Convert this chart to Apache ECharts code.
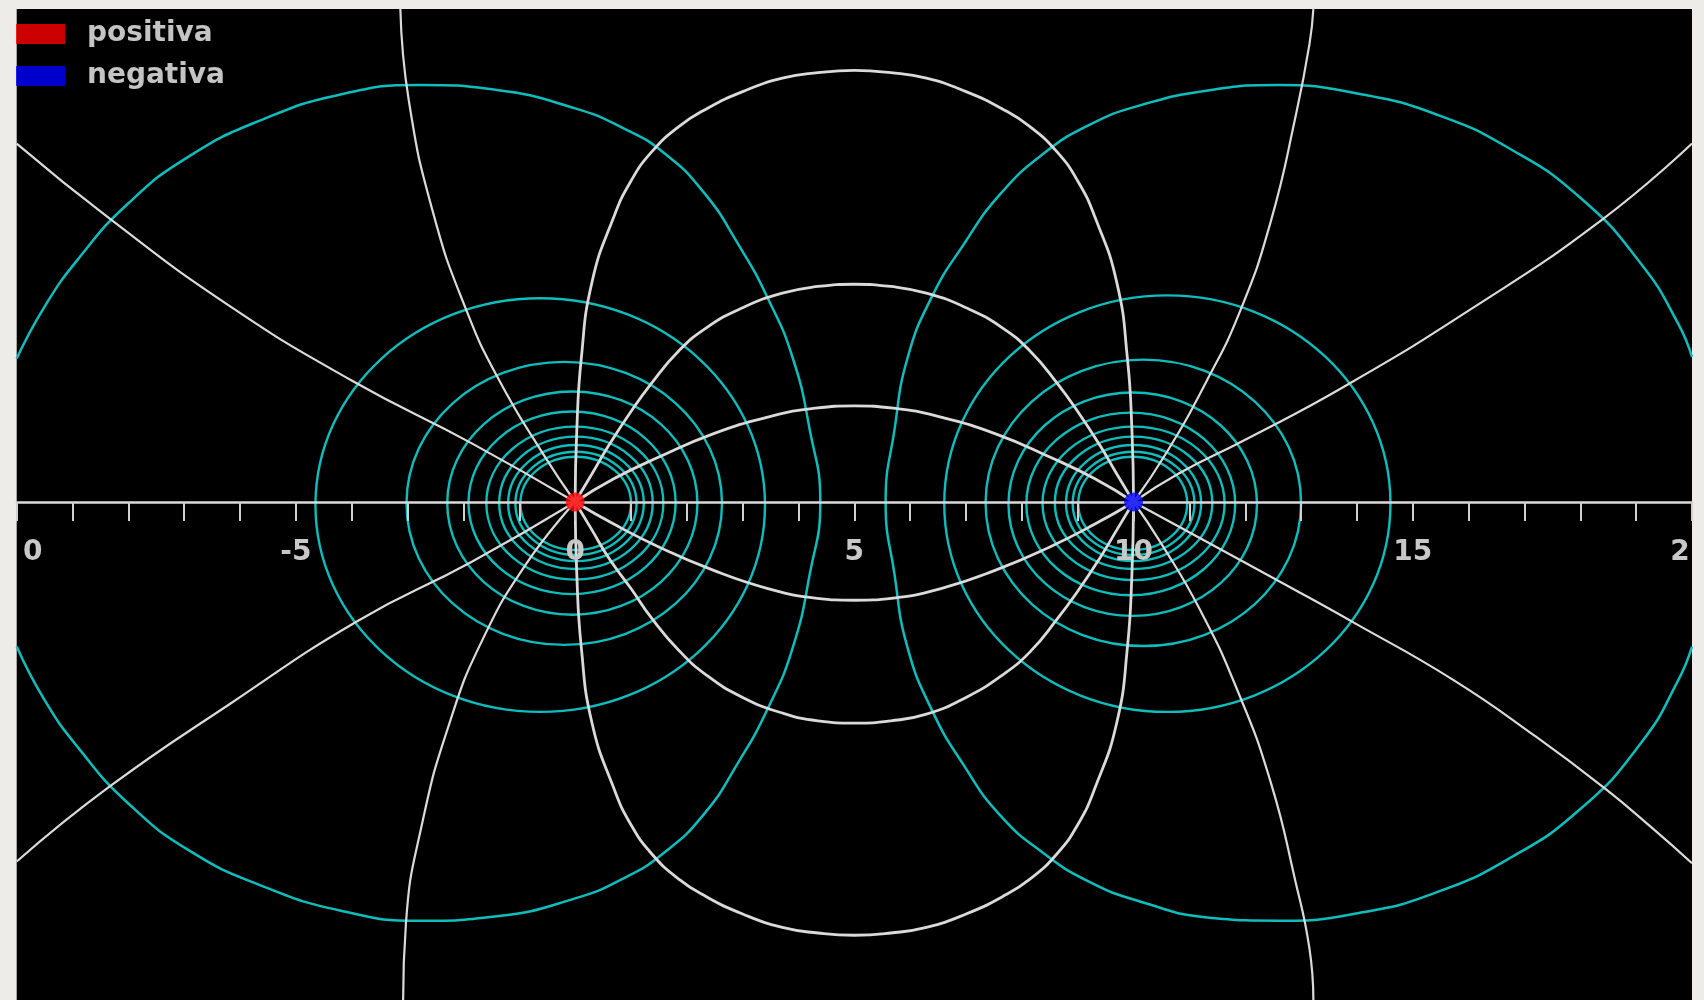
<!DOCTYPE html>
<html>
<head>
<meta charset="utf-8">
<title>Dipolo eléctrico</title>
<script src="https://cdn.jsdelivr.net/npm/echarts@6/dist/echarts.min.js"></script>
<style>
html, body { margin: 0; padding: 0; background: #eeece8; }
#chart { width: 1704px; height: 1000px; }
</style>
</head>
<body>
<div id="chart"></div>
<script>
// charges
const positiva = [[0, 0]];
const negativa = [[10, 0]];

// field lines (white) in axis units
const lensUp = [[0, 0], [0.7, 0.42], [1.49, 0.8], [2.47, 1.22], [3.45, 1.52], [4.3, 1.68], [5.0, 1.72], [5.7, 1.68], [6.55, 1.52], [7.53, 1.22], [8.51, 0.8], [9.3, 0.42], [10, 0]];
const lensDown = [[0, 0], [0.7, -0.4], [1.49, -0.8], [2.47, -1.22], [3.45, -1.55], [4.3, -1.72], [5.0, -1.76], [5.7, -1.72], [6.55, -1.55], [7.53, -1.22], [8.51, -0.8], [9.3, -0.4], [10, 0]];
const midUp = [[0, 0], [0.3, 0.5], [0.6, 1.01], [1.0, 1.62], [1.37, 2.13], [1.85, 2.7], [2.35, 3.12], [3.0, 3.48], [3.71, 3.74], [4.35, 3.86], [5.0, 3.9], [5.65, 3.86], [6.29, 3.74], [7.0, 3.48], [7.65, 3.12], [8.15, 2.7], [8.63, 2.13], [9.0, 1.62], [9.4, 1.01], [9.7, 0.5], [10, 0]];
const midDown = [[0, 0], [0.3, -0.5], [0.6, -1.0], [1.0, -1.55], [1.37, -2.08], [1.85, -2.65], [2.35, -3.1], [3.0, -3.5], [3.71, -3.78], [4.35, -3.92], [5.0, -3.96], [5.65, -3.92], [6.29, -3.8], [7.0, -3.5], [7.65, -3.1], [8.15, -2.68], [8.63, -2.1], [9.0, -1.6], [9.4, -1.0], [9.7, -0.5], [10, 0]];
const bigUp = [[0, 0], [0.03, 1.3], [0.11, 2.57], [0.30, 3.93], [0.69, 5.10], [1.0, 5.75], [1.37, 6.27], [1.85, 6.72], [2.35, 7.04], [3.0, 7.35], [3.71, 7.59], [4.35, 7.69], [5.0, 7.73], [5.65, 7.69], [6.29, 7.59], [7.0, 7.35], [7.65, 7.04], [8.15, 6.72], [8.63, 6.27], [9.0, 5.75], [9.31, 5.10], [9.70, 3.93], [9.89, 2.57], [9.97, 1.3], [10, 0]];
const bigDown = [[0, 0], [0.03, -1.3], [0.11, -2.6], [0.30, -3.95], [0.69, -5.12], [1.0, -5.78], [1.37, -6.3], [1.85, -6.75], [2.35, -7.07], [3.0, -7.38], [3.71, -7.62], [4.35, -7.72], [5.0, -7.76], [5.65, -7.72], [6.29, -7.62], [7.0, -7.38], [7.65, -7.07], [8.15, -6.75], [8.63, -6.3], [9.0, -5.78], [9.31, -5.12], [9.70, -3.95], [9.89, -2.6], [9.97, -1.3], [10, 0]];
const topAUp = [[0, 0], [-0.58, 0.87], [-1.36, 2.18], [-1.95, 3.44], [-2.54, 5.17], [-2.98, 7.20], [-3.13, 8.84]];
const topADown = [[0, 0], [-0.87, -1.10], [-1.66, -2.47], [-2.25, -3.96], [-2.74, -5.76], [-3.03, -7.55], [-3.08, -8.92]];
const sideAUp = [[0, 0], [-1.85, 1.05], [-4.01, 2.18], [-6.17, 3.50], [-8.34, 5.08], [-10, 6.42]];
const sideADown = [[0, 0], [-1.85, -1.07], [-3.91, -2.14], [-6.17, -3.61], [-8.34, -5.10], [-10, -6.44]];
const topBUp = [[10, 0], [10.6, 0.9], [11.3, 2.15], [11.9, 3.4], [12.45, 5.0], [12.9, 6.9], [13.15, 8.2], [13.22, 8.84]];
const topBDown = [[10, 0], [10.5, -0.75], [11.2, -1.95], [11.85, -3.35], [12.45, -5.0], [12.9, -6.8], [13.15, -8.0], [13.22, -8.92]];
const sideBUp = [[10, 0], [10.81, 0.51], [11.99, 1.11], [13.76, 2.06], [16.02, 3.44], [18.38, 5.05], [20, 6.42]];
const sideBDown = [[10, 0], [11.58, -0.86], [12.68, -1.46], [13.96, -2.17], [15.73, -3.19], [17.2, -4.2], [18.4, -5.1], [19.3, -5.85], [20, -6.47]];

// outermost equipotentials (cyan), clipped by the plot edge
const outerPos = [[-10, 2.57], [-9.5, 3.5], [-8.9, 4.35], [-8.0, 5.35], [-6.9, 6.2], [-5.6, 6.85], [-4.2, 7.3], [-2.8, 7.47], [-1.4, 7.38], [0.0, 7.05], [0.85, 6.7], [1.57, 6.27], [2.3, 5.55], [2.93, 4.6], [3.45, 3.65], [3.9, 2.57], [4.2, 1.3], [4.39, 0],
    [4.2, -1.3], [3.9, -2.6], [3.45, -3.7], [2.93, -4.65], [2.3, -5.6], [1.57, -6.3], [0.85, -6.75], [0.0, -7.1], [-1.4, -7.42], [-2.8, -7.5], [-4.2, -7.32], [-5.6, -6.88], [-6.9, -6.25], [-8.0, -5.4], [-8.9, -4.4], [-9.5, -3.55], [-10, -2.59]];
const outerNeg = [[20, 2.6], [19.75, 3.2], [19.1, 4.25], [18.0, 5.45], [16.7, 6.35], [15.4, 6.95], [14.1, 7.3], [12.6, 7.47], [11.4, 7.38], [10.1, 7.1], [9.2, 6.75], [8.4, 6.25], [7.6, 5.5], [6.95, 4.6], [6.4, 3.7], [5.95, 2.57], [5.72, 1.3], [5.56, 0],
    [5.72, -1.3], [5.95, -2.6], [6.4, -3.75], [6.95, -4.7], [7.6, -5.6], [8.4, -6.3], [9.2, -6.8], [10.1, -7.15], [11.4, -7.45], [12.6, -7.5], [14.1, -7.35], [15.4, -7.0], [16.7, -6.4], [18.0, -5.5], [19.1, -4.3], [19.75, -3.2], [20, -2.59]];

// closed equipotentials: [left, right, top, bottom]
const ringsPos = [
    [-4.65, 3.40, 3.65, -3.76],
    [-3.02, 2.63, 2.51, -2.56],
    [-2.29, 2.19, 1.98, -2.02],
    [-1.91, 1.80, 1.62, -1.65],
    [-1.59, 1.58, 1.35, -1.39],
    [-1.36, 1.39, 1.17, -1.20],
    [-1.20, 1.23, 1.02, -1.06],
    [-1.07, 1.10, 0.90, -0.95],
    [-0.98, 1.00, 0.81, -0.86]
];
const ringsNeg = [
    [6.61, 14.60, 3.70, -3.76],
    [7.35, 13.00, 2.55, -2.58],
    [7.76, 12.21, 1.96, -2.04],
    [8.08, 11.82, 1.60, -1.67],
    [8.37, 11.63, 1.35, -1.40],
    [8.59, 11.41, 1.17, -1.20],
    [8.79, 11.21, 1.02, -1.06],
    [8.91, 11.09, 0.90, -0.95],
    [9.01, 10.96, 0.81, -0.86]
];

const WHITE = '#dadada';
const CYAN = '#10bdbd';
const labelFont = { color: '#c8c8c8', fontFamily: 'DejaVu Sans', fontWeight: 'bold', fontSize: 28 };
const X_MIN = -10, X_MAX = 20, Y_MIN = -8.92, Y_MAX = 8.83;

function fieldLine(data, width) {
    return {
        type: 'line', data: data, showSymbol: false, smooth: 0.5, silent: true,
        lineStyle: { color: WHITE, width: width }, z: 3
    };
}

function outerLine(data) {
    return {
        type: 'line', data: data, showSymbol: false, smooth: 0.5, silent: true,
        lineStyle: { color: CYAN, width: 2.5 }, z: 2
    };
}

const chart = echarts.init(document.getElementById('chart'));

const option = {
    backgroundColor: '#eeece8',
    animation: false,
    grid: [
        {
            left: 16.7, right: 12, top: 9, bottom: 0,
            show: true, backgroundColor: '#000', borderWidth: 0,
            outerBoundsMode: 'none'
        },
        // upper half only, so its bottom edge is the y = 0 line and carries the axis
        {
            left: 16.7, right: 12, top: 9, height: 493,
            show: false, outerBoundsMode: 'none'
        }
    ],
    legend: {
        data: ['positiva', 'negativa'],
        orient: 'vertical', left: 16, top: 20, padding: 0,
        itemWidth: 49, itemHeight: 20, itemGap: 14,
        icon: 'rect', selectedMode: false,
        textStyle: Object.assign({}, labelFont, { color: '#c4c4c4', padding: [0, 0, 0, 17] })
    },
    xAxis: [
        { type: 'value', gridIndex: 0, min: X_MIN, max: X_MAX, show: false },
        {
            type: 'value', gridIndex: 1, min: X_MIN, max: X_MAX, interval: 5, z: 5,
            position: 'bottom',
            axisLine: { show: true, onZero: false, lineStyle: { color: WHITE, width: 2.5 } },
            axisTick: { show: true, length: 19, lineStyle: { color: '#d0d0d0', width: 2 } },
            minorTick: { show: true, splitNumber: 5, length: 19, lineStyle: { color: '#d0d0d0', width: 2 } },
            splitLine: { show: false },
            minorSplitLine: { show: false },
            axisLabel: Object.assign({}, labelFont, {
                show: true, margin: 37, showMinLabel: true, showMaxLabel: true,
                // the end labels are cut by the frame in the original
                formatter: function (v) {
                    if (v === -10) return '{l|0}';
                    if (v === 20) return '{r|2}';
                    return String(v);
                },
                rich: {
                    l: Object.assign({}, labelFont, { padding: [0, 0, 0, 32] }),
                    r: Object.assign({}, labelFont, { padding: [0, 24, 0, 0] })
                }
            })
        }
    ],
    yAxis: [
        { type: 'value', gridIndex: 0, min: Y_MIN, max: Y_MAX, show: false, splitLine: { show: false } },
        { type: 'value', gridIndex: 1, min: 0, max: 1, show: false, splitLine: { show: false } }
    ],
    series: [
        {
            type: 'custom', silent: true, z: 2, clip: true,
            data: ringsPos.concat(ringsNeg),
            encode: { x: [0, 1], y: [2, 3] },
            renderItem: function (params, api) {
                const a = api.coord([api.value(0), api.value(2)]);
                const b = api.coord([api.value(1), api.value(3)]);
                return {
                    type: 'ellipse',
                    shape: {
                        cx: (a[0] + b[0]) / 2, cy: (a[1] + b[1]) / 2,
                        rx: Math.abs(b[0] - a[0]) / 2, ry: Math.abs(b[1] - a[1]) / 2
                    },
                    style: { fill: 'none', stroke: CYAN, lineWidth: 2.4 }
                };
            }
        },
        outerLine(outerPos),
        outerLine(outerNeg),
        fieldLine(lensUp, 2.8),
        fieldLine(lensDown, 2.8),
        fieldLine(midUp, 2.8),
        fieldLine(midDown, 2.8),
        fieldLine(bigUp, 2.8),
        fieldLine(bigDown, 2.8),
        fieldLine(topAUp, 2.2),
        fieldLine(topADown, 2.2),
        fieldLine(sideAUp, 2.2),
        fieldLine(sideADown, 2.2),
        fieldLine(topBUp, 2.2),
        fieldLine(topBDown, 2.2),
        fieldLine(sideBUp, 2.2),
        fieldLine(sideBDown, 2.2),
        {
            name: 'positiva', type: 'scatter', data: positiva, symbolSize: 19,
            itemStyle: { color: '#ff0000' }, z: 10, silent: true
        },
        {
            name: 'negativa', type: 'scatter', data: negativa, symbolSize: 19,
            itemStyle: { color: '#0000ff' }, z: 10, silent: true
        }
    ]
};

chart.setOption(option);
</script>
</body>
</html>
